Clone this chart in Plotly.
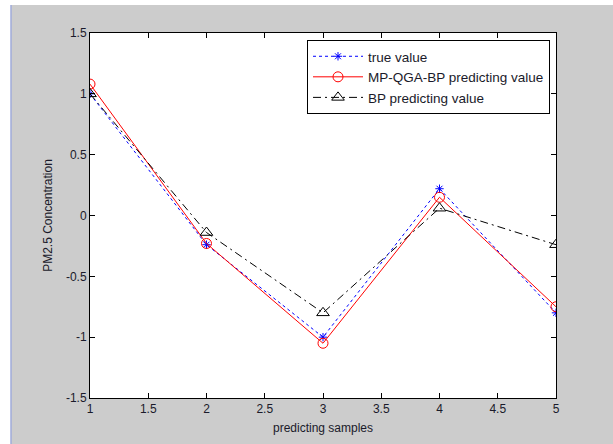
import plotly.graph_objects as go

samples = [1, 2, 3, 4, 5]
true_value = [1.00, -0.24, -1.00, 0.22, -0.80]
mpqga_value = [1.08, -0.23, -1.05, 0.15, -0.75]
bp_value = [1.00, -0.14, -0.80, 0.06, -0.24]

x_ticks = [1, 1.5, 2, 2.5, 3, 3.5, 4, 4.5, 5]
x_ticklabels = ["1", "1.5", "2", "2.5", "3", "3.5", "4", "4.5", "5"]
y_ticks = [-1.5, -1, -0.5, 0, 0.5, 1, 1.5]
y_ticklabels = ["-1.5", "-1", "-0.5", "0", "0.5", "1", "1.5"]

FONT = "Liberation Sans, Arial, sans-serif"
TXT = "#1a1a2a"

fig = go.Figure()
fig.add_trace(go.Scatter(
    x=samples, y=true_value, name="true value", mode="lines+markers",
    line=dict(color="#0000ff", width=1, dash="3px,3px"),
    marker=dict(symbol="asterisk-open", size=7, color="#0000ff", line=dict(color="#0000ff", width=1)),
))
fig.add_trace(go.Scatter(
    x=samples, y=mpqga_value, name="MP-QGA-BP predicting value", mode="lines+markers",
    line=dict(color="#ff0000", width=1),
    marker=dict(symbol="circle-open", size=10, color="#ff0000", line=dict(color="#ff0000", width=1)),
))
fig.add_trace(go.Scatter(
    x=samples, y=bp_value, name="BP predicting value", mode="lines+markers",
    line=dict(color="#000000", width=1, dash="8px,4px,2px,4px"),
    marker=dict(symbol="triangle-up-open", size=11, color="#000000", line=dict(color="#000000", width=1)),
))

W, H = 613, 444
L, R, T, B = 90, 57, 33, 46
pw = W - L - R
ph = H - T - B

axis_common = dict(
    showline=True, linecolor="black", linewidth=1, mirror="ticks",
    ticks="inside", ticklen=5, tickcolor="black", tickwidth=1,
    showgrid=False, zeroline=False,
    tickfont=dict(family=FONT, size=12, color=TXT),
)

fig.update_layout(
    width=W, height=H,
    margin=dict(l=L, r=R, t=T, b=B),
    paper_bgcolor="#cccccc",
    plot_bgcolor="white",
    font=dict(family=FONT, size=12, color=TXT),
    xaxis=dict(range=[1, 5], tickvals=x_ticks, ticktext=x_ticklabels,
               title=dict(text="predicting samples", standoff=8,
                          font=dict(family=FONT, size=12, color=TXT)),
               **axis_common),
    yaxis=dict(range=[-1.5, 1.5], tickvals=y_ticks, ticktext=y_ticklabels,
               title=dict(text="PM2.5 Concentration", standoff=10,
                          font=dict(family=FONT, size=12, color=TXT)),
               **axis_common),
    legend=dict(x=(307 - L) / pw, y=1 - (40 - T) / ph, xanchor="left", yanchor="top",
                bgcolor="white", bordercolor="black", borderwidth=1,
                font=dict(family=FONT, size=13.5, color=TXT),
                tracegroupgap=0, itemwidth=50),
    showlegend=True,
)

# window-style white strips at top and left edges
fig.add_shape(type="rect", xref="paper", yref="paper",
              x0=-L / pw - 0.01, x1=(W - L) / pw + 0.01, y0=1 + (T - 5) / ph, y1=1 + T / ph + 0.01,
              fillcolor="white", line=dict(width=0), layer="below")
fig.add_shape(type="rect", xref="paper", yref="paper",
              x0=-L / pw - 0.01, x1=-(L - 10.5) / pw, y0=-B / ph - 0.01, y1=1 + T / ph + 0.01,
              fillcolor="white", line=dict(width=0), layer="below")
fig.add_shape(type="line", xref="paper", yref="paper",
              x0=-(L - 11) / pw, x1=-(L - 11) / pw, y0=-B / ph - 0.01, y1=1 + (T - 5) / ph,
              line=dict(color="#8a9ae0", width=1), layer="below")

fig.write_html("out.html", config={"displayModeBar": False},
               post_script="document.body.style.margin='0';")
